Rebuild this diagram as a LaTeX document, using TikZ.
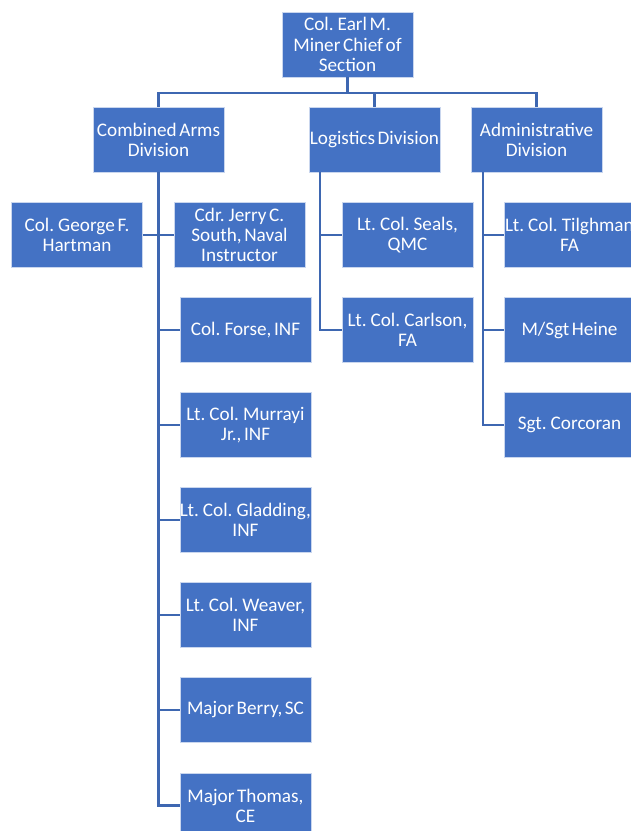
\documentclass[tikz,border=0pt]{standalone}
\usepackage{fontspec}
\setmainfont{Carlito}[WordSpace=0.6]
\definecolor{boxblue}{HTML}{4472C4}
\definecolor{lineblue}{HTML}{3E67B1}
\definecolor{rimblue}{HTML}{C9D6EE}
\begin{document}
\begin{tikzpicture}[x=1pt,y=-1pt,
  unit/.style={rectangle, fill=boxblue, draw=rimblue, line width=0.8pt,
    minimum width=131pt, minimum height=65pt, inner sep=0pt, align=center,
    text=white, font=\fontsize{19.2}{20.2}\selectfont},
  conn/.style={draw=lineblue, line width=2.4pt}]
\useasboundingbox (0,0) rectangle (630,831);

% chief and divisions
\node[unit] (chief) at (347.5,44.5) {Col. Earl M.\\Miner Chief of\\Section};
\node[unit] (cad) at (158.5,139.5) {Combined Arms\\Division};
\node[unit] (log) at (374.5,139.5) {Logistics Division};
\node[unit] (adm) at (536.5,139.5) {Administrative\\Division};

% combined arms staff
\node[unit] (hartman) at (77,235) {Col. George F.\\Hartman};
\node[unit] (south) at (239.5,235) {Cdr. Jerry C.\\South, Naval\\Instructor};
\node[unit] (forse) at (245.5,330) {Col. Forse, INF};
\node[unit] (murrayi) at (245.5,425) {Lt. Col. Murrayi\\Jr., INF};
\node[unit] (gladding) at (245.5,520) {Lt. Col. Gladding,\\INF};
\node[unit] (weaver) at (245.5,615) {Lt. Col. Weaver,\\INF};
\node[unit] (berry) at (245.5,710) {Major Berry, SC};
\node[unit] (thomas) at (245.5,805.5) {Major Thomas,\\CE};

% logistics staff
\node[unit] (seals) at (407.5,235) {Lt. Col. Seals,\\QMC};
\node[unit] (carlson) at (407.5,330) {Lt. Col. Carlson,\\FA};

% administrative staff
\node[unit] (tilghman) at (569.5,235) {Lt. Col. Tilghman\\FA};
\node[unit] (heine) at (569.5,330) {M/Sgt Heine};
\node[unit] (corcoran) at (569.5,425) {Sgt. Corcoran};

% top-level bus
\coordinate (bus) at (347.5,93);
\draw[conn] (chief.south) -- (bus);
\draw[conn] (bus) -| (cad.north);
\draw[conn] (bus) -| (log.north);
\draw[conn] (bus) -| (adm.north);

% combined arms spine
\coordinate (cv) at (cad.south);
\draw[conn] (cv) |- (thomas.west);
\draw[conn] (hartman.east) -- (south.west);
\foreach \n in {forse,murrayi,gladding,weaver,berry}
  \draw[conn] (cv |- \n.west) -- (\n.west);

% logistics spine
\coordinate (lv) at ([xshift=11.5pt]log.south west);
\draw[conn] (lv) |- (carlson.west);
\draw[conn] (lv |- seals.west) -- (seals.west);

% administrative spine
\coordinate (av) at ([xshift=12.5pt]adm.south west);
\draw[conn] (av) |- (corcoran.west);
\draw[conn] (av |- tilghman.west) -- (tilghman.west);
\draw[conn] (av |- heine.west) -- (heine.west);
\end{tikzpicture}
\end{document}
